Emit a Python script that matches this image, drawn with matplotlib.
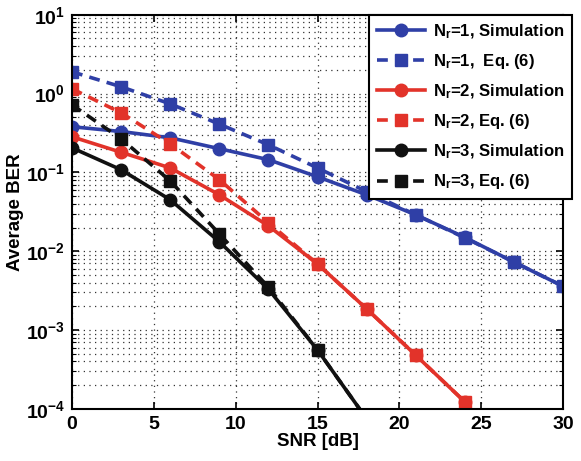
import matplotlib
matplotlib.use('Agg')
import matplotlib.pyplot as plt
from matplotlib.ticker import LogLocator, NullFormatter, MultipleLocator

plt.rcParams['font.family'] = ['Liberation Sans', 'DejaVu Sans']
plt.rcParams['font.weight'] = 'bold'
plt.rcParams['mathtext.fontset'] = 'custom'
plt.rcParams['mathtext.rm'] = 'Liberation Sans:bold'
plt.rcParams['mathtext.bf'] = 'Liberation Sans:bold'
plt.rcParams['mathtext.it'] = 'Liberation Sans:bold'
plt.rcParams['mathtext.default'] = 'bf'

# SNR grid (dB)
snr = [0, 3, 6, 9, 12, 15, 18, 21, 24, 27, 30]

# BER
nr1_sim = [0.38, 0.33, 0.275, 0.20, 0.145, 0.088, 0.052, 0.029, 0.0150, 0.0073, 0.0036]
nr1_eq = [1.89, 1.22, 0.74, 0.41, 0.224, 0.114, 0.057, 0.029, 0.0148, 0.0073, 0.0036]
nr2_sim = [0.283, 0.18, 0.114, 0.052, 0.021, 0.0069, 0.00186, 0.00048, 0.000123]
nr2_eq = [1.15, 0.57, 0.23, 0.081, 0.023, 0.0069, 0.00186, 0.00048, 0.000123]
nr3_sim = [0.205, 0.108, 0.045, 0.0132, 0.0033, 0.00056, 0.000075]
nr3_eq = [0.72, 0.267, 0.078, 0.0166, 0.0035, 0.00056, 0.000075]

blue = '#2f3fa6'
red = '#e2332a'
black = '#111111'

series = [
    (nr1_sim, blue, '-', 'o', r'N$_r$=1, Simulation'),
    (nr1_eq, blue, '--', 's', r'N$_r$=1,  Eq. (6)'),
    (nr2_sim, red, '-', 'o', r'N$_r$=2, Simulation'),
    (nr2_eq, red, '--', 's', r'N$_r$=2, Eq. (6)'),
    (nr3_sim, black, '-', 'o', r'N$_r$=3, Simulation'),
    (nr3_eq, black, '--', 's', r'N$_r$=3, Eq. (6)'),
]

fig = plt.figure(figsize=(5.81, 4.61), dpi=100)
ax = fig.add_axes([0.124, 0.113, 0.845, 0.855])

for vals, color, ls, mk, label in series:
    x = snr[:len(vals)]
    if ls == '--':
        ax.plot(x, vals, color=color, linestyle=ls, dashes=(3, 2), lw=2.6,
                marker=mk, ms=8, mfc=color, mec=color, label=label)
    else:
        ax.plot(x, vals, color=color, linestyle=ls, lw=2.6,
                marker=mk, ms=9, mfc=color, mec=color, label=label)

ax.set_yscale('log')
ax.set_xlim(0, 30)
ax.set_ylim(1e-4, 10)
ax.xaxis.set_major_locator(MultipleLocator(5))
ax.yaxis.set_major_locator(LogLocator(base=10, numticks=10))
ax.yaxis.set_minor_locator(LogLocator(base=10, subs=range(2, 10), numticks=20))
ax.yaxis.set_minor_formatter(NullFormatter())

gstyle = dict(linestyle=(0, (1, 3.5)), color='#333333', lw=0.9)
ax.grid(True, which='major', axis='both', **gstyle)
ax.grid(True, which='minor', axis='y', **gstyle)

ax.tick_params(which='both', direction='in', top=True, right=True, labelsize=14)
ax.tick_params(which='major', length=5, width=1.2, pad=5)
ax.tick_params(which='minor', length=3, width=0.8)
for sp in ax.spines.values():
    sp.set_linewidth(1.5)

ax.set_xlabel('SNR [dB]', fontsize=13.5, fontweight='bold', labelpad=0)
ax.set_ylabel('Average BER', fontsize=13.5, fontweight='bold', labelpad=1)

leg = ax.legend(loc='upper right', bbox_to_anchor=(572 / 581, 1 - 15 / 461),
                bbox_transform=fig.transFigure, fontsize=12, handlelength=2.9,
                handletextpad=0.5, labelspacing=0.68, borderaxespad=0,
                fancybox=False, framealpha=1, edgecolor='black', borderpad=0.45)
leg.get_frame().set_linewidth(1.5)

fig.savefig('out.png', dpi=100)
